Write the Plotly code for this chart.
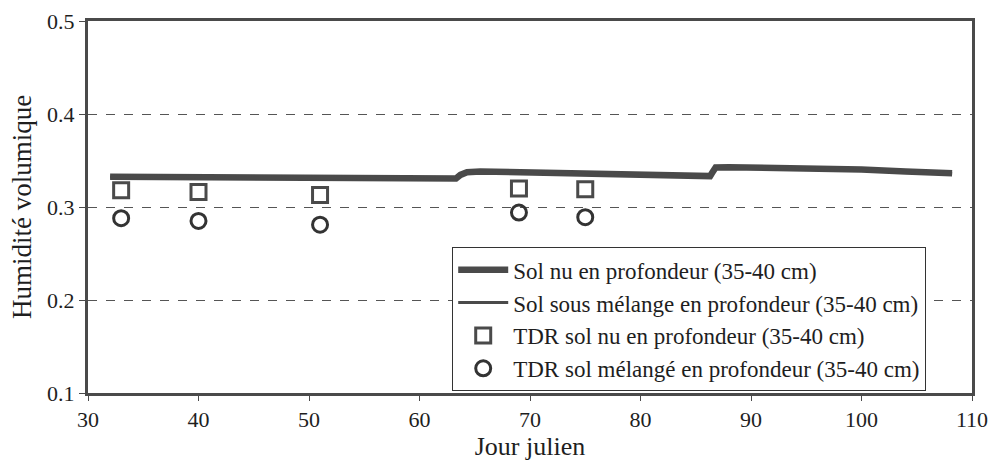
import plotly.graph_objects as go

# Simulated soil moisture at depth (35-40 cm), by Julian day
jour_modele = [32, 36, 40, 45, 50, 55, 60, 63.3, 63.7, 64.3, 65.5, 68, 72, 76, 80, 84, 86.3, 86.5, 86.8,
               88, 92, 96, 100, 104, 108.2]
sol_nu = [0.3325, 0.3322, 0.3318, 0.3313, 0.3310, 0.3307, 0.3306, 0.3306, 0.3345, 0.3375, 0.3382,
          0.3375, 0.3372, 0.3362, 0.3348, 0.3338, 0.3332, 0.3370, 0.3425, 0.3428, 0.3422, 0.3415,
          0.3402, 0.3382, 0.3362]
sol_melange = [0.3323, 0.3320, 0.3316, 0.3311, 0.3308, 0.3305, 0.3304, 0.3304, 0.3343, 0.3373, 0.3380,
               0.3373, 0.3370, 0.3360, 0.3346, 0.3336, 0.3330, 0.3368, 0.3423, 0.3426, 0.3420, 0.3413,
               0.3400, 0.3380, 0.3360]

# TDR measurements
jour_tdr = [33, 40, 51, 69, 75]
tdr_nu = [0.318, 0.316, 0.313, 0.320, 0.319]
tdr_melange = [0.288, 0.285, 0.281, 0.294, 0.289]

x_ticks = [30, 40, 50, 60, 70, 80, 90, 100, 110]
y_ticks = [0.1, 0.2, 0.3, 0.4, 0.5]

serif = "Liberation Serif"
gris = "#4a4a4a"
encre = "#1e1e1e"

fig = go.Figure()
fig.add_trace(go.Scatter(x=jour_modele, y=sol_nu, mode="lines",
                         line=dict(color=gris, width=6.5),
                         name="Sol nu en profondeur (35-40 cm)", legendgroup="a"))
fig.add_trace(go.Scatter(x=jour_modele, y=sol_melange, mode="lines",
                         line=dict(color=gris, width=3),
                         name="Sol sous mélange en profondeur (35-40 cm)", legendgroup="b"))
fig.add_trace(go.Scatter(x=jour_tdr, y=tdr_nu, mode="markers",
                         marker=dict(symbol="square-open", size=15, color=gris, line=dict(width=3)),
                         name="TDR sol nu en profondeur (35-40 cm)", legendgroup="c"))
fig.add_trace(go.Scatter(x=jour_tdr, y=tdr_melange, mode="markers",
                         marker=dict(symbol="circle-open", size=15, color="#333333", line=dict(width=3)),
                         name="TDR sol mélangé en profondeur (35-40 cm)", legendgroup="d"))

fig.update_layout(
    width=989, height=461,
    margin=dict(l=88, r=17, t=21, b=68),
    paper_bgcolor="white", plot_bgcolor="white",
    font=dict(family=serif, size=22, color=encre),
    showlegend=True,
    legend=dict(x=0.412, y=0.392, xanchor="left", yanchor="top",
                bgcolor="white", bordercolor="#333333", borderwidth=1,
                font=dict(family=serif, size=23, color=encre),
                tracegroupgap=0, itemwidth=50),
    xaxis=dict(range=[30, 110], tickvals=x_ticks, ticktext=[str(v) for v in x_ticks],
               automargin=False,
               showgrid=False, zeroline=False,
               showline=True, linewidth=3, linecolor=gris, mirror=True,
               ticks="outside", ticklen=5, tickcolor=gris, tickwidth=1,
               tickfont=dict(family=serif, size=22, color=encre),
               title=dict(text="Jour julien", font=dict(family=serif, size=26, color=encre),
                          standoff=0)),
    yaxis=dict(range=[0.1, 0.5], tickvals=y_ticks, ticktext=[f"{v:.1f}" for v in y_ticks],
               automargin=False,
               showgrid=True, gridcolor="#555555", gridwidth=1, griddash="dash",
               zeroline=False,
               showline=True, linewidth=3, linecolor=gris, mirror=True,
               ticks="outside", ticklen=6, tickcolor=gris, tickwidth=1,
               tickfont=dict(family=serif, size=22, color=encre),
               title=dict(text="Humidité volumique", font=dict(family=serif, size=27, color=encre),
                          standoff=8)),
)

fig.write_html("out.html")
